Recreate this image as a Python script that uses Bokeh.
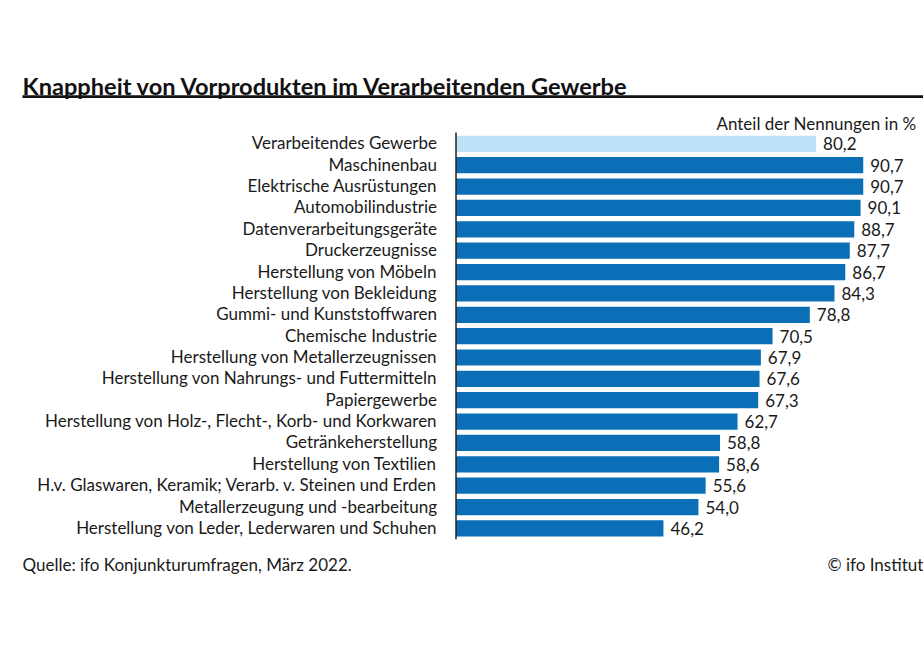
from bokeh.plotting import figure
from bokeh.models import Range1d, Label, BoxAnnotation, ColumnDataSource
from bokeh.core.properties import value
from bokeh.embed import file_html
from bokeh.resources import INLINE

categories = [
    "Verarbeitendes Gewerbe",
    "Maschinenbau",
    "Elektrische Ausrüstungen",
    "Automobilindustrie",
    "Datenverarbeitungsgeräte",
    "Druckerzeugnisse",
    "Herstellung von Möbeln",
    "Herstellung von Bekleidung",
    "Gummi- und Kunststoffwaren",
    "Chemische Industrie",
    "Herstellung von Metallerzeugnissen",
    "Herstellung von Nahrungs- und Futtermitteln",
    "Papiergewerbe",
    "Herstellung von Holz-, Flecht-, Korb- und Korkwaren",
    "Getränkeherstellung",
    "Herstellung von Textilien",
    "H.v. Glaswaren, Keramik; Verarb. v. Steinen und Erden",
    "Metallerzeugung und -bearbeitung",
    "Herstellung von Leder, Lederwaren und Schuhen",
]
values = [80.2, 90.7, 90.7, 90.1, 88.7, 87.7, 86.7, 84.3, 78.8, 70.5,
          67.9, 67.6, 67.3, 62.7, 58.8, 58.6, 55.6, 54.0, 46.2]
highlight = ["Verarbeitendes Gewerbe"]

title = "Knappheit von Vorprodukten im Verarbeitenden Gewerbe"
unit_note = "Anteil der Nennungen in %"
source_note = "Quelle: ifo Konjunkturumfragen, März 2022."
copyright_note = "© ifo Institut"

DARK = "#0a6fb6"
LIGHT = "#bee3f8"
TXT = "#1a1a1a"
FONTNAME = "Lato"
FONT = value(FONTNAME)
FS = "17px"

W, H = 923, 661
idx = list(range(len(categories)))
colors = [LIGHT if c in highlight else DARK for c in categories]
labels = [f"{v:.1f}".replace(".", ",") for v in values]

src = ColumnDataSource(dict(y=idx, v=values, cat=categories, col=colors, lab=labels))

px_per_unit = 4.49
x0_px = 455.5
row_px = 21.37
y0_px = 143.3

p = figure(width=W, height=H, output_backend="svg", toolbar_location=None,
           x_range=Range1d(-x0_px / px_per_unit, (W - x0_px) / px_per_unit),
           y_range=Range1d((H - y0_px) / row_px, -y0_px / row_px),
           min_border=0, x_axis_type=None, y_axis_type=None)
p.outline_line_color = None
p.background_fill_color = "white"
p.border_fill_color = "white"
for g in p.grid:
    g.visible = False

p.hbar(y="y", left=0, right="v", height=0.76, fill_color="col", line_color=None, source=src)
p.segment(x0=0, x1=0, y0=-0.53, y1=len(categories) - 0.5, line_color="#222222", line_width=1.5)

p.text(x=0, y="y", text="cat", source=src, x_offset=-19, y_offset=-1, text_align="right",
       text_baseline="middle", text_font=FONT, text_font_size=FS, text_color=TXT)
p.text(x="v", y="y", text="lab", source=src, x_offset=7, y_offset=0, text_align="left",
       text_baseline="middle", text_font=FONT, text_font_size=FS, text_color=TXT)

p.add_layout(Label(x=22, y=H - 85, x_units="screen", y_units="screen", text=title,
                   text_font=FONTNAME, text_font_size="23.6px", text_font_style="bold",
                   text_color="#111111", text_baseline="alphabetic"))
p.add_layout(BoxAnnotation(left=22, right=W, top=H - 94.8, bottom=H - 97.4,
                           left_units="screen", right_units="screen",
                           top_units="screen", bottom_units="screen",
                           fill_color="#111111", fill_alpha=1, line_color=None))
p.add_layout(Label(x=916, y=H - 123, x_units="screen", y_units="screen", text=unit_note,
                   text_font=FONTNAME, text_font_size=FS, text_color=TXT,
                   text_align="right", text_baseline="alphabetic"))
p.add_layout(Label(x=22, y=H - 564, x_units="screen", y_units="screen", text=source_note,
                   text_font=FONTNAME, text_font_size=FS, text_color=TXT,
                   text_baseline="alphabetic"))
p.add_layout(Label(x=827, y=H - 564, x_units="screen", y_units="screen", text=copyright_note,
                   text_font=FONTNAME, text_font_size=FS, text_color=TXT,
                   text_baseline="alphabetic"))

open("out.html", "w").write(file_html(p, INLINE))
